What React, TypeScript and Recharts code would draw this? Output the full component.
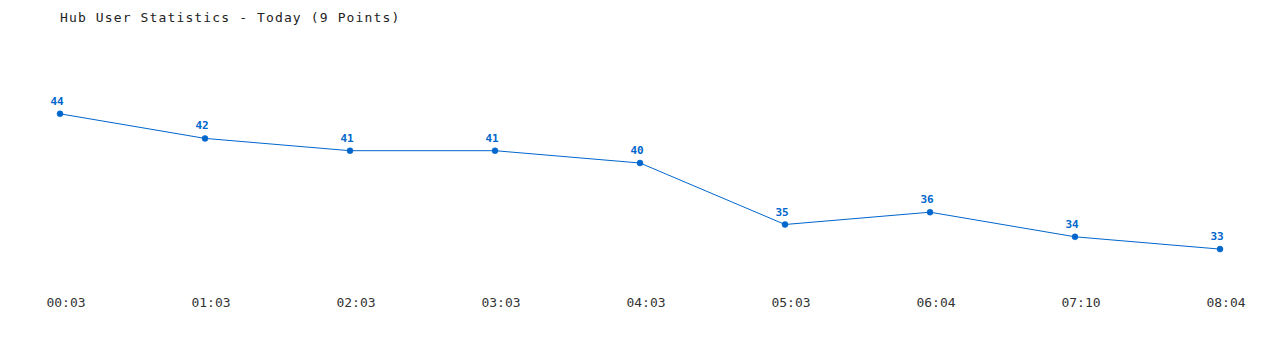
import { LineChart, Line, XAxis, YAxis, LabelList } from "recharts";

const times = ["00:03", "01:03", "02:03", "03:03", "04:03", "05:03", "06:04", "07:10", "08:04"];
const users = [44, 42, 41, 41, 40, 35, 36, 34, 33];

const data = times.map((time, i) => ({ time, users: users[i] }));

const MONO = "'DejaVu Sans Mono', 'Liberation Mono', monospace";

export default function App() {
  return (
    <div style={{ position: "absolute", left: 0, top: 0, width: 1280, height: 350, background: "#fff" }}>
      <div
        style={{
          position: "absolute",
          left: 60,
          top: 10,
          fontFamily: MONO,
          fontSize: 13,
          letterSpacing: 1.13,
          color: "#222",
          whiteSpace: "nowrap",
        }}
      >
        Hub User Statistics - Today (9 Points)
      </div>
      <LineChart width={1280} height={350} data={data} margin={{ top: 40, right: 60, left: 60, bottom: 34 }}>
        <XAxis
          dataKey="time"
          axisLine={false}
          tickLine={false}
          height={30}
          tick={{ fill: "#333", fontSize: 13, fontFamily: MONO, dx: 6, dy: 4 }}
          interval={0}
        />
        <YAxis hide domain={[30, 50]} />
        <Line
          dataKey="users"
          stroke="#0066cc"
          strokeWidth={1}
          dot={{ r: 3, fill: "#0066cc", stroke: "#0066cc", strokeWidth: 0.5 }}
          isAnimationActive={false}
        >
          <LabelList
            dataKey="users"
            position="top"
            offset={9}
            dx={-3}
            style={{ fill: "#0066cc", fontSize: 11, fontWeight: "bold", fontFamily: MONO }}
          />
        </Line>
      </LineChart>
    </div>
  );
}
